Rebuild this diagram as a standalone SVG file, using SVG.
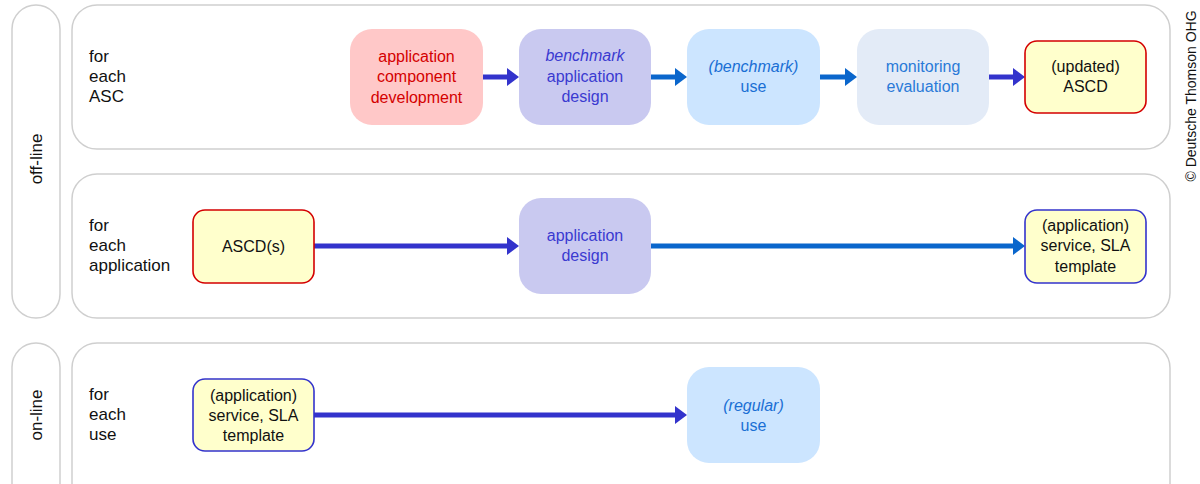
<svg xmlns="http://www.w3.org/2000/svg" width="1200" height="484" viewBox="0 0 1200 484">
  <style>
    text { font-family: "Liberation Sans", Arial, sans-serif; font-size: 16px; }
    .lane { fill: #ffffff; stroke: #cfcfcf; stroke-width: 1.5; }
    .label { fill: #111111; font-size: 17px; }
    .mid { text-anchor: middle; }
    .dev { fill: #ffc8c8; }
    .design { fill: #c9c9f0; }
    .designText { fill: #3a3ad0; }
    .use { fill: #cce5ff; }
    .useText { fill: #1a6fd4; }
    .mon { fill: #e3ebf7; }
    .monText { fill: #2a7ad8; }
    .doc { fill: #ffffcc; stroke-width: 1.6; }
    .docRed { stroke: #d40000; }
    .docBlue { stroke: #3333cc; }
    .docText { fill: #111111; }
    .arrowDark { stroke: #3333cc; stroke-width: 5; fill: none; }
    .arrowMid { stroke: #0a66cc; stroke-width: 5; fill: none; }
    .it { font-style: italic; }
  </style>
  <defs>
    <marker id="headDark" markerUnits="userSpaceOnUse" markerWidth="12" markerHeight="18" refX="0" refY="9" orient="auto">
      <path d="M0,0 L12,9 L0,18 z" fill="#3333cc"/>
    </marker>
    <marker id="headMid" markerUnits="userSpaceOnUse" markerWidth="12" markerHeight="18" refX="0" refY="9" orient="auto">
      <path d="M0,0 L12,9 L0,18 z" fill="#0a66cc"/>
    </marker>
  </defs>

  <!-- phase pills -->
  <g id="phase-offline">
    <rect class="lane" x="12" y="5" width="48" height="313" rx="24"/>
    <text class="label mid" transform="translate(42,159) rotate(-90)">off-line</text>
  </g>
  <g id="phase-online">
    <rect class="lane" x="12" y="343" width="48" height="170" rx="24"/>
    <text class="label mid" transform="translate(42,415) rotate(-90)">on-line</text>
  </g>

  <!-- lanes -->
  <g id="lane-asc">
    <rect class="lane" x="72" y="5" width="1098" height="144" rx="25"/>
    <text class="label" x="89" y="62">for</text>
    <text class="label" x="89" y="82">each</text>
    <text class="label" x="89" y="102">ASC</text>
  </g>
  <g id="lane-application">
    <rect class="lane" x="72" y="174" width="1098" height="144" rx="25"/>
    <text class="label" x="89" y="231">for</text>
    <text class="label" x="89" y="251">each</text>
    <text class="label" x="89" y="271">application</text>
  </g>
  <g id="lane-use">
    <rect class="lane" x="72" y="343" width="1098" height="170" rx="25"/>
    <text class="label" x="89" y="400">for</text>
    <text class="label" x="89" y="420">each</text>
    <text class="label" x="89" y="440">use</text>
  </g>

  <!-- connectors -->
  <g id="connectors">
    <line class="arrowDark" x1="483" y1="77" x2="507" y2="77" marker-end="url(#headDark)"/>
    <line class="arrowMid" x1="651" y1="77" x2="675" y2="77" marker-end="url(#headMid)"/>
    <line class="arrowMid" x1="820" y1="77" x2="845" y2="77" marker-end="url(#headMid)"/>
    <line class="arrowDark" x1="989" y1="77" x2="1013" y2="77" marker-end="url(#headDark)"/>
    <line class="arrowDark" x1="314" y1="246" x2="507" y2="246" marker-end="url(#headDark)"/>
    <line class="arrowMid" x1="651" y1="246" x2="1013" y2="246" marker-end="url(#headMid)"/>
    <line class="arrowDark" x1="314" y1="415" x2="675" y2="415" marker-end="url(#headDark)"/>
  </g>

  <!-- row 1 nodes -->
  <g id="node-component-development">
    <rect class="dev" x="350" y="29" width="133" height="96" rx="22"/>
    <text class="mid" fill="#d40000" x="416.5" y="62">application</text>
    <text class="mid" fill="#d40000" x="416.5" y="82">component</text>
    <text class="mid" fill="#d40000" x="416.5" y="103">development</text>
  </g>
  <g id="node-benchmark-design">
    <rect class="design" x="519" y="29" width="132" height="96" rx="22"/>
    <text class="mid designText it" x="585" y="61">benchmark</text>
    <text class="mid designText" x="585" y="82">application</text>
    <text class="mid designText" x="585" y="102">design</text>
  </g>
  <g id="node-benchmark-use">
    <rect class="use" x="687" y="29" width="133" height="96" rx="22"/>
    <text class="mid useText it" x="753.5" y="72">(benchmark)</text>
    <text class="mid useText" x="753.5" y="92">use</text>
  </g>
  <g id="node-monitoring">
    <rect class="mon" x="857" y="29" width="132" height="96" rx="22"/>
    <text class="mid monText" x="923" y="72">monitoring</text>
    <text class="mid monText" x="923" y="92">evaluation</text>
  </g>
  <g id="node-updated-ascd">
    <rect class="doc docRed" x="1025" y="41" width="121" height="72" rx="12"/>
    <text class="mid docText" x="1085.5" y="72">(updated)</text>
    <text class="mid docText" x="1085.5" y="92">ASCD</text>
  </g>

  <!-- row 2 nodes -->
  <g id="node-ascds">
    <rect class="doc docRed" x="193" y="210" width="121" height="73" rx="12"/>
    <text class="mid docText" x="253.5" y="252">ASCD(s)</text>
  </g>
  <g id="node-application-design">
    <rect class="design" x="519" y="198" width="132" height="96" rx="22"/>
    <text class="mid designText" x="585" y="241">application</text>
    <text class="mid designText" x="585" y="261">design</text>
  </g>
  <g id="node-sla-template-offline">
    <rect class="doc docBlue" x="1025" y="210" width="121" height="73" rx="12"/>
    <text class="mid docText" x="1085.5" y="231">(application)</text>
    <text class="mid docText" x="1085.5" y="251">service, SLA</text>
    <text class="mid docText" x="1085.5" y="272">template</text>
  </g>

  <!-- row 3 nodes -->
  <g id="node-sla-template-online">
    <rect class="doc docBlue" x="193" y="379" width="121" height="72" rx="12"/>
    <text class="mid docText" x="253.5" y="401">(application)</text>
    <text class="mid docText" x="253.5" y="421">service, SLA</text>
    <text class="mid docText" x="253.5" y="441">template</text>
  </g>
  <g id="node-regular-use">
    <rect class="use" x="687" y="367" width="133" height="96" rx="22"/>
    <text class="mid useText it" x="753.5" y="411">(regular)</text>
    <text class="mid useText" x="753.5" y="431">use</text>
  </g>

  <!-- copyright -->
  <text class="mid" style="font-size:14px" fill="#111111" transform="translate(1196,96) rotate(-90)">© Deutsche Thomson OHG</text>
</svg>
